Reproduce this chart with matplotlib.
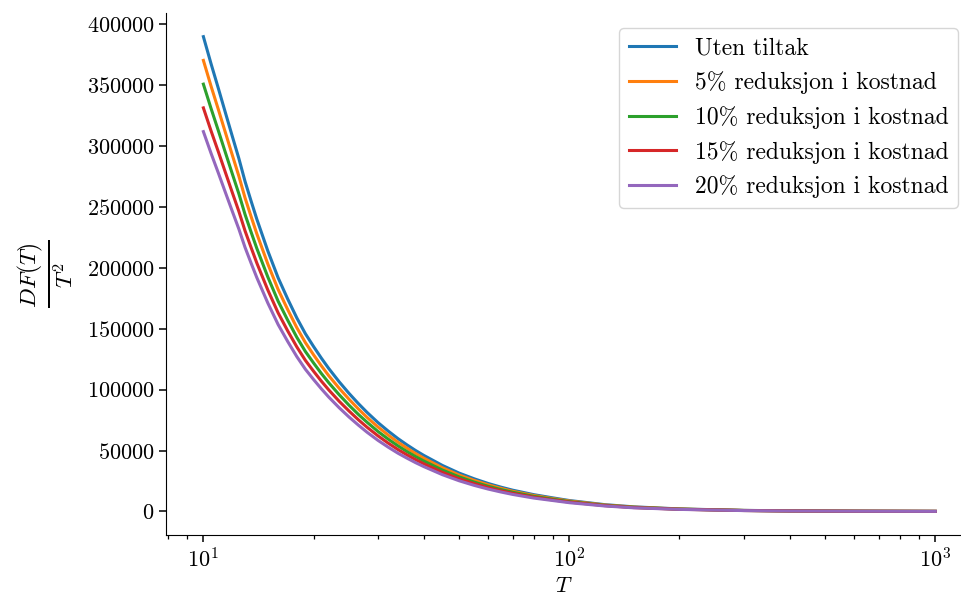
import numpy as np
import matplotlib
matplotlib.use("Agg")
import matplotlib.pyplot as plt

# ------------------------------ Data ------------------------------

# horizon T (log axis)
T = [10, 10.5, 11, 11.5, 12, 12.5, 13, 13.5, 14, 15, 16, 17, 18, 19, 20, 21, 22,
     23.5, 25, 26.5, 28, 30, 32, 34, 36, 38, 40, 45, 50, 55, 60, 65, 70, 80, 90,
     100, 125, 150, 200, 300, 400, 600, 1000]

# DF(T)/T^2, in thousands
uten_tiltak = [390, 367.5, 347, 327, 308, 290, 271, 255, 240, 214, 192, 174.5,
               159, 146, 135.5, 126, 117.5, 106.5, 97, 88.7, 81.4, 73, 66, 59.9,
               54.7, 50.1, 46.1, 37.8, 31.5, 26.8, 23, 20, 17.5, 13.8, 11.2, 9.0,
               5.6, 3.8, 2.1, 0.9, 0.5, 0.25, 0.1]
red_5 = [370.5, 349.1, 329.7, 310.7, 292.6, 275.5, 257.5, 242.3, 228, 203.3,
         182.4, 165.8, 151, 138.7, 128.7, 119.7, 111.6, 101.2, 92.2, 84.3, 77.3,
         69.4, 62.7, 56.9, 52, 47.6, 43.8, 35.9, 29.9, 25.5, 21.9, 19, 16.6, 13.1,
         10.6, 8.6, 5.3, 3.6, 2.0, 0.86, 0.48, 0.24, 0.1]
red_10 = [351, 330.8, 312.3, 294.3, 277.2, 261, 243.9, 229.5, 216, 192.6, 172.8,
          157.1, 143.1, 131.4, 122, 113.4, 105.8, 95.9, 87.3, 79.8, 73.3, 65.7,
          59.4, 53.9, 49.2, 45.1, 41.5, 34, 28.4, 24.1, 20.7, 18, 15.8, 12.4,
          10.1, 8.1, 5.0, 3.4, 1.9, 0.81, 0.45, 0.23, 0.09]
red_15 = [331.5, 312.4, 295, 278, 261.8, 246.5, 230.4, 216.8, 204, 181.9, 163.2,
          148.3, 135.2, 124.1, 115.2, 107.1, 99.9, 90.5, 82.5, 75.4, 69.2, 62.1,
          56.1, 50.9, 46.5, 42.6, 39.2, 32.1, 26.8, 22.8, 19.6, 17, 14.9, 11.7,
          9.5, 7.7, 4.8, 3.2, 1.8, 0.77, 0.43, 0.21, 0.09]
red_20 = [312, 294, 277.6, 261.6, 246.4, 232, 216.8, 204, 192, 171.2, 153.6,
          139.6, 127.2, 116.8, 108.4, 100.8, 94, 85.2, 77.6, 71, 65.1, 58.4,
          52.8, 47.9, 43.8, 40.1, 36.9, 30.2, 25.2, 21.4, 18.4, 16, 14, 11, 9,
          7.2, 4.5, 3.0, 1.7, 0.72, 0.4, 0.2, 0.08]

labels = ["Uten tiltak",
          "5% reduksjon i kostnad",
          "10% reduksjon i kostnad",
          "15% reduksjon i kostnad",
          "20% reduksjon i kostnad"]
series = [uten_tiltak, red_5, red_10, red_15, red_20]

# ------------------------------ Plot ------------------------------

plt.rcParams.update({
    "font.family": "serif",
    "font.serif": ["cmr10"],
    "mathtext.fontset": "cm",
    "axes.formatter.use_mathtext": True,
    "axes.unicode_minus": False,
    "font.size": 16,
})

fig = plt.figure(figsize=(9.62, 5.98), dpi=100)
ax = fig.add_axes([0.173, 0.105, 0.827, 0.8734])

for vals, lab in zip(series, labels):
    ax.plot(T, np.array(vals) * 1000, lw=2.2, label=lab)

ax.set_xscale("log")
ax.set_xlim(10 ** 0.899, 10 ** 3.073)
ax.set_ylim(-19500, 409500)
ax.set_xlabel(r"$T$", labelpad=4)
ax.set_ylabel(r"$\frac{DF(T)}{T^2}$", fontsize=24, labelpad=8)

ax.spines["top"].set_visible(False)
ax.spines["right"].set_visible(False)
ax.tick_params(which="major", length=5, width=1.1, direction="out")
ax.tick_params(which="minor", length=3, width=0.9, direction="out")

ax.legend(loc="upper right", bbox_to_anchor=(0.995, 0.971), borderaxespad=0,
          fontsize=17, handlelength=2.0, handletextpad=0.8, borderpad=0.4,
          labelspacing=0.5)

fig.savefig("out.png", dpi=100)
